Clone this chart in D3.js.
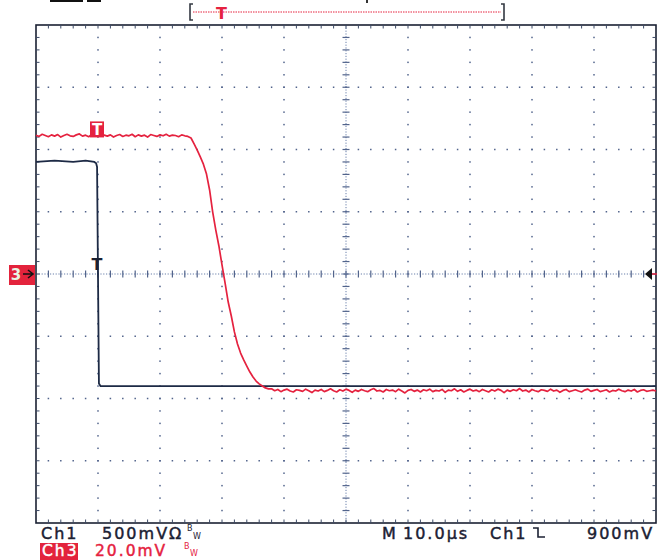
<!DOCTYPE html>
<html>
<head>
<meta charset="utf-8">
<script src="https://cdn.jsdelivr.net/npm/d3@7/dist/d3.min.js"></script>
<style>
  html, body { margin: 0; padding: 0; background: #ffffff; }
  svg { display: block; }
  text { font-family: "DejaVu Sans", sans-serif; }
</style>
</head>
<body>
<svg id="scope" width="657" height="560"></svg>
<script>
// ---- acquisition settings ----
const timePerDiv = 10;          // µs / div  (M 10.0µs)
const ch1VoltsPerDiv = 0.5;     // V / div   (Ch1 500mV)
const ch3MilliVoltsPerDiv = 20; // mV / div  (Ch3 20.0mV)
const ch1Offset = 0.9;          // V at screen centre (trigger level 900mV)
const triggerTime = -40;        // µs, trigger point on the time axis
const triggerLevel = 0.9;       // V on Ch1

// ---- Ch3 record: one sample every 0.5 µs from -50 µs to +50 µs (mV) ----
const ch3Start = -50, ch3Step = 0.5;
const ch3MilliVolts = [
  44.6,44.2,44.9,44.5,44.1,44.7,44.3,44.8,44.0,44.5,
  44.9,44.4,44.2,44.7,45.0,44.3,44.6,44.1,44.8,44.5,
  44.2,44.9,44.6,44.3,44.7,44.0,44.5,44.8,44.2,44.6,
  44.4,44.9,44.1,44.7,44.3,44.6,44.0,44.8,44.5,44.2,
  44.7,44.4,44.9,44.3,44.6,44.5,44.1,44.7,44.4,44.2,
  43.7,41.8,39.8,37.6,35.3,32.1,27.0,19.9,14.1,9.0,
  2.9,-2.9,-9.0,-13.5,-18.6,-22.5,-25.4,-27.6,-29.6,-31.5,
  -33.1,-34.4,-35.3,-36.0,-36.6,-36.9,
  -36.9,-37.5,-37.1,-37.8,-37.3,-37.0,-37.6,-37.9,-37.2,-37.4,
  -37.7,-37.0,-37.5,-38.1,-37.3,-37.6,-37.1,-37.8,-37.4,-36.9,
  -37.5,-37.9,-37.2,-37.6,-37.0,-37.4,-38.0,-37.3,-37.7,-37.1,
  -37.5,-37.8,-37.2,-36.8,-37.6,-37.4,-37.9,-37.1,-37.5,-37.3,
  -37.8,-37.0,-37.6,-38.2,-37.4,-37.1,-37.7,-37.3,-37.9,-37.2,
  -37.5,-37.0,-37.8,-37.4,-37.6,-37.1,-38.0,-37.3,-37.5,-36.9,
  -37.7,-37.2,-37.9,-37.4,-37.0,-37.6,-37.3,-37.8,-37.1,-37.5,
  -37.9,-37.2,-37.6,-37.0,-37.4,-38.1,-37.3,-37.7,-37.2,-37.5,
  -36.8,-37.6,-37.3,-37.9,-37.1,-37.5,-37.8,-37.2,-37.4,-37.7,
  -37.0,-37.6,-37.3,-38.0,-37.4,-37.1,-37.8,-37.5,-37.2,-37.6,
  -37.9,-37.3,-37.0,-37.7,-37.4,-37.1,-37.8,-37.5,-37.2,-37.9,
  -37.4,-37.6,-37.0,-37.5,-37.8,-37.3,-37.6,-37.1,-37.9,-37.4,
  -37.2,-37.7,-37.5,-37.3,-37.6
];

// ---- Ch1 edge (µs, V) ----
const ch1Time  = [-50, -47, -44, -42, -40.6, -40.3, -40.15, -39.85, -39.6, -30, 0, 30, 50];
const ch1Volts = [1.80, 1.81, 1.80, 1.81, 1.80, 1.79, 1.76, 0.02, 0.00, 0.00, 0.00, 0.00, 0.00];

// ---- readout labels ----
const ch1Readout = ["Ch1", "500mV"];
const ch3Readout = ["Ch3", "20.0mV"];
const timeReadout = ["M", "10.0µs", "Ch1", "900mV"];

// ---- colours ----
const inkColor = "#1b2133";
const traceCh1 = "#1d2a45";
const traceCh3 = "#e5223f";
const gridColor = "#52648c";

const svg = d3.select("#scope");

// screen: 10 horizontal, 8 vertical divisions
const x = d3.scaleLinear().domain([-5 * timePerDiv, 5 * timePerDiv]).range([36, 656]);
const yDiv = d3.scaleLinear().domain([-4, 4]).range([523, 25]);
const yCh3 = v => yDiv(v / ch3MilliVoltsPerDiv);
const yCh1 = v => yDiv((v - ch1Offset) / ch1VoltsPerDiv);

const xMajor = d3.range(-5, 5.01, 1).map(d => d * timePerDiv);
const xMinor = d3.range(-5, 5.01, 0.2).map(d => d * timePerDiv);
const yMajor = d3.range(-4, 4.01, 1);
const yMinor = d3.range(-4, 4.01, 0.2);

const grid = svg.append("g");

// dotted graticule lines: one dot per minor division
xMajor.filter(t => Math.abs(t) > 1e-6 && Math.abs(Math.abs(t) - 50) > 1e-6).forEach(t => {
  grid.selectAll(null).data(yMinor.slice(1, -1)).enter().append("rect")
    .attr("x", x(t) - 0.75).attr("y", d => yDiv(d) - 0.75)
    .attr("width", 1.5).attr("height", 1.5).attr("fill", gridColor);
});
yMajor.filter(v => v !== 0 && Math.abs(v) !== 4).forEach(v => {
  grid.selectAll(null).data(xMinor.slice(1, -1)).enter().append("rect")
    .attr("x", d => x(d) - 0.75).attr("y", yDiv(v) - 0.75)
    .attr("width", 1.5).attr("height", 1.5).attr("fill", gridColor);
});

// centre axes with minor tick marks
grid.append("line").attr("x1", x(-50)).attr("x2", x(50)).attr("y1", yDiv(0)).attr("y2", yDiv(0))
  .attr("stroke", "#6b80ab").attr("stroke-width", 1).attr("stroke-dasharray", "1.2,1.6");
grid.append("line").attr("x1", x(0)).attr("x2", x(0)).attr("y1", yDiv(4)).attr("y2", yDiv(-4))
  .attr("stroke", "#6b80ab").attr("stroke-width", 1).attr("stroke-dasharray", "1.2,1.6");
grid.selectAll(null).data(xMinor.slice(1, -1)).enter().append("line")
  .attr("x1", d => x(d)).attr("x2", d => x(d))
  .attr("y1", yDiv(0) - 3.5).attr("y2", yDiv(0) + 3.5)
  .attr("stroke", gridColor).attr("stroke-width", 1.2);
grid.selectAll(null).data(yMinor.slice(1, -1)).enter().append("line")
  .attr("x1", x(0) - 3.5).attr("x2", x(0) + 3.5)
  .attr("y1", d => yDiv(d)).attr("y2", d => yDiv(d))
  .attr("stroke", gridColor).attr("stroke-width", 1.2);

// frame and edge ticks
grid.append("rect").attr("x", x(-50)).attr("y", yDiv(4))
  .attr("width", x(50) - x(-50)).attr("height", yDiv(-4) - yDiv(4))
  .attr("fill", "none").attr("stroke", inkColor).attr("stroke-width", 1.6);
const edgeTicks = (data, f) => grid.selectAll(null).data(data).enter().append("line").each(f)
  .attr("stroke", "#3d4a66").attr("stroke-width", 1);
edgeTicks(xMinor.slice(1, -1), function (d) {
  d3.select(this).attr("x1", x(d)).attr("x2", x(d)).attr("y1", yDiv(4)).attr("y2", yDiv(4) + 3.5);
});
edgeTicks(xMinor.slice(1, -1), function (d) {
  d3.select(this).attr("x1", x(d)).attr("x2", x(d)).attr("y1", yDiv(-4)).attr("y2", yDiv(-4) - 3.5);
});
edgeTicks(yMinor.slice(1, -1), function (d) {
  d3.select(this).attr("x1", x(-50)).attr("x2", x(-50) + 3.5).attr("y1", yDiv(d)).attr("y2", yDiv(d));
});
edgeTicks(yMinor.slice(1, -1), function (d) {
  d3.select(this).attr("x1", x(50)).attr("x2", x(50) - 3.5).attr("y1", yDiv(d)).attr("y2", yDiv(d));
});

// ---- traces ----
const ch3Points = ch3MilliVolts.map((v, i) => [ch3Start + i * ch3Step, v]);
const ch1Points = ch1Time.map((t, i) => [t, ch1Volts[i]]);

svg.append("path").datum(ch1Points)
  .attr("d", d3.line().x(d => x(d[0])).y(d => yCh1(d[1])))
  .attr("fill", "none").attr("stroke", traceCh1).attr("stroke-width", 1.8);

svg.append("path").datum(ch3Points)
  .attr("d", d3.line().x(d => x(d[0])).y(d => yCh3(d[1])))
  .attr("fill", "none").attr("stroke", traceCh3).attr("stroke-width", 1.7)
  .attr("stroke-linejoin", "round");

// trigger marks on each trace
const ch3AtTrig = ch3MilliVolts[Math.round((triggerTime - ch3Start) / ch3Step)];
const tx = x(triggerTime) - 1;
svg.append("rect").attr("x", tx - 7).attr("y", yCh3(ch3AtTrig) - 15)
  .attr("width", 14).attr("height", 16).attr("fill", traceCh3);
svg.append("text").attr("x", tx).attr("y", yCh3(ch3AtTrig) - 1)
  .attr("text-anchor", "middle").attr("font-size", 15).attr("font-weight", "bold")
  .attr("fill", "#ffffff").text("T");
svg.append("text").attr("x", tx).attr("y", yCh1(triggerLevel) - 4)
  .attr("text-anchor", "middle").attr("font-size", 16).attr("font-weight", "bold")
  .attr("fill", inkColor).text("T");

// ground marker for Ch3 on the left edge
const gy = yCh3(0);
svg.append("rect").attr("x", 9).attr("y", gy - 9).attr("width", 26).attr("height", 20).attr("fill", "#e3233c");
svg.append("text").attr("x", 16).attr("y", gy + 6).attr("text-anchor", "middle")
  .attr("font-size", 15).attr("font-weight", "bold").attr("fill", "#e9f5e4").text("3");
svg.append("path").attr("d", `M23,${gy}H32M28,${gy - 4}L33,${gy}L28,${gy + 4}`)
  .attr("fill", "none").attr("stroke", "#111111").attr("stroke-width", 1.6);

// trigger level marker on the right edge
const ty = yCh1(triggerLevel);
svg.append("path").attr("d", `M645,${ty}L652,${ty - 6}L652,${ty + 6}Z`).attr("fill", "#111111");
svg.append("line").attr("x1", 652).attr("x2", 657).attr("y1", ty).attr("y2", ty)
  .attr("stroke", traceCh3).attr("stroke-width", 1.5);

// record overview bracket with trigger position
const rec = d3.scaleLinear().domain([0, 1]).range([190, 504]);
const trigFrac = (triggerTime - x.domain()[0]) / (x.domain()[1] - x.domain()[0]);
svg.append("path").attr("d", `M${rec(0) + 3},4H${rec(0)}V20H${rec(0) + 3}`)
  .attr("fill", "none").attr("stroke", "#333842").attr("stroke-width", 1.6);
svg.append("path").attr("d", `M${rec(1) - 3},4H${rec(1)}V20H${rec(1) - 3}`)
  .attr("fill", "none").attr("stroke", "#333842").attr("stroke-width", 1.6);
svg.append("line").attr("x1", rec(0) + 3).attr("x2", rec(1) - 3).attr("y1", 12).attr("y2", 12)
  .attr("stroke", traceCh3).attr("stroke-width", 1).attr("stroke-dasharray", "1.5,1");
svg.append("text").attr("x", rec(trigFrac)).attr("y", 19).attr("text-anchor", "middle")
  .attr("font-size", 16).attr("font-weight", "bold").attr("fill", traceCh3).text("T");

// status bar fragments clipped at the top edge
svg.append("rect").attr("x", 50).attr("y", 0).attr("width", 33).attr("height", 2).attr("fill", "#111111");
svg.append("rect").attr("x", 87).attr("y", 0).attr("width", 14).attr("height", 2).attr("fill", "#111111");
svg.append("rect").attr("x", 366).attr("y", 0).attr("width", 2).attr("height", 3).attr("fill", "#333333");

// ---- readouts ----
const readout = (tx, ty, s, color, size) => svg.append("text").attr("x", tx).attr("y", ty)
  .attr("font-size", size || 16).attr("letter-spacing", 2).attr("fill", color)
  .attr("stroke", color).attr("stroke-width", 0.45).text(s);

readout(41, 539, ch1Readout[0], inkColor);
readout(102, 539, ch1Readout[1], inkColor);
readout(169, 539, "Ω", inkColor).attr("letter-spacing", 0);
svg.append("text").attr("x", 187).attr("y", 531).attr("font-size", 8).attr("fill", inkColor).text("B");
svg.append("text").attr("x", 193).attr("y", 539).attr("font-size", 8).attr("fill", inkColor).text("W");

svg.append("rect").attr("x", 40).attr("y", 543).attr("width", 38).attr("height", 17).attr("fill", "#e3233c");
readout(42, 555.5, ch3Readout[0], "#ffffff", 15.5);
readout(95, 555.5, ch3Readout[1], traceCh3, 15.5);
svg.append("text").attr("x", 184).attr("y", 549).attr("font-size", 8).attr("fill", traceCh3).text("B");
svg.append("text").attr("x", 190).attr("y", 556).attr("font-size", 8).attr("fill", traceCh3).text("W");

readout(382, 539, timeReadout[0], inkColor);
readout(403, 539, timeReadout[1], inkColor);
readout(490, 539, timeReadout[2], inkColor);
svg.append("path").attr("d", "M533,528H538V537H545").attr("fill", "none")
  .attr("stroke", inkColor).attr("stroke-width", 1.6);
readout(587, 539, timeReadout[3], inkColor);
</script>
</body>
</html>
